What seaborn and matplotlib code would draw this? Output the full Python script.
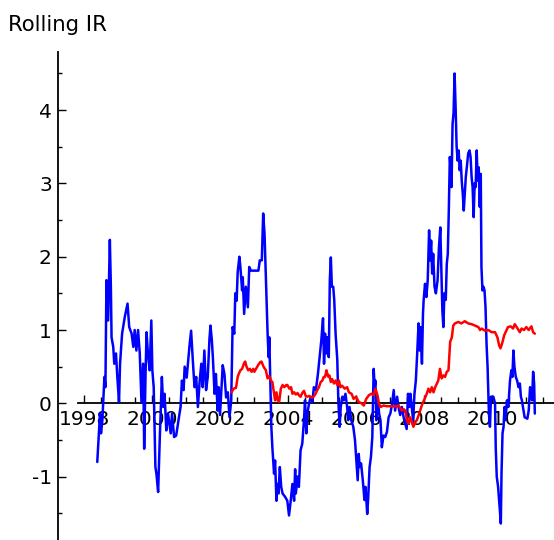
import numpy as np
import pandas as pd
import matplotlib
matplotlib.use("Agg")
import matplotlib.pyplot as plt
import seaborn as sns
from matplotlib.ticker import FixedLocator

# ---- data ----
blue_years = [
    1998.39, 1998.47, 1998.50, 1998.54, 1998.60, 1998.63, 1998.66, 1998.71, 1998.76, 1998.79,
    1998.81, 1998.86, 1998.89, 1998.94, 1998.98, 1999.03, 1999.06, 1999.12, 1999.20, 1999.28,
    1999.33, 1999.40, 1999.45, 1999.49, 1999.54, 1999.59, 1999.64, 1999.69, 1999.74, 1999.77,
    1999.81, 1999.84, 1999.88, 1999.93, 1999.98, 2000.01, 2000.05, 2000.10, 2000.13, 2000.18,
    2000.23, 2000.29, 2000.33, 2000.37, 2000.42, 2000.47, 2000.55, 2000.59, 2000.65, 2000.71,
    2000.78, 2000.84, 2000.88, 2000.93, 2000.96, 2001.02, 2001.10, 2001.15, 2001.20, 2001.25,
    2001.30, 2001.35, 2001.40, 2001.45, 2001.49, 2001.54, 2001.59, 2001.64, 2001.69, 2001.72,
    2001.76, 2001.79, 2001.84, 2001.88, 2001.93, 2001.96, 2002.00, 2002.04, 2002.08, 2002.13,
    2002.18, 2002.23, 2002.28, 2002.33, 2002.37, 2002.42, 2002.45, 2002.49, 2002.52, 2002.57,
    2002.60, 2002.65, 2002.67, 2002.71, 2002.76, 2002.82, 2002.86, 2002.91, 2003.01, 2003.13,
    2003.17, 2003.23, 2003.27, 2003.31, 2003.35, 2003.40, 2003.43, 2003.45, 2003.48, 2003.51,
    2003.54, 2003.59, 2003.62, 2003.66, 2003.69, 2003.72, 2003.76, 2003.80, 2003.84, 2003.92,
    2003.98, 2004.03, 2004.08, 2004.13, 2004.18, 2004.21, 2004.23, 2004.28, 2004.32, 2004.37,
    2004.42, 2004.47, 2004.50, 2004.54, 2004.57, 2004.62, 2004.67, 2004.72, 2004.76, 2004.82,
    2004.88, 2004.93, 2004.98, 2005.03, 2005.06, 2005.09, 2005.12, 2005.16, 2005.20, 2005.23,
    2005.26, 2005.29, 2005.33, 2005.36, 2005.40, 2005.45, 2005.48, 2005.52, 2005.55, 2005.60,
    2005.64, 2005.69, 2005.74, 2005.77, 2005.81, 2005.86, 2005.92, 2005.97, 2006.01, 2006.05,
    2006.08, 2006.11, 2006.15, 2006.20, 2006.25, 2006.28, 2006.33, 2006.36, 2006.40, 2006.44,
    2006.48, 2006.52, 2006.55, 2006.57, 2006.60, 2006.64, 2006.68, 2006.72, 2006.76, 2006.81,
    2006.86, 2006.91, 2006.96, 2007.01, 2007.06, 2007.11, 2007.15, 2007.21, 2007.25, 2007.30,
    2007.35, 2007.40, 2007.45, 2007.49, 2007.53, 2007.57, 2007.60, 2007.64, 2007.68, 2007.72,
    2007.76, 2007.80, 2007.84, 2007.87, 2007.90, 2007.94, 2007.97, 2007.99, 2008.03, 2008.07,
    2008.11, 2008.15, 2008.18, 2008.21, 2008.24, 2008.27, 2008.31, 2008.35, 2008.40, 2008.44,
    2008.48, 2008.51, 2008.54, 2008.57, 2008.60, 2008.64, 2008.67, 2008.70, 2008.73, 2008.76,
    2008.79, 2008.81, 2008.84, 2008.87, 2008.90, 2008.93, 2008.96, 2008.99, 2009.02, 2009.05,
    2009.08, 2009.11, 2009.14, 2009.17, 2009.20, 2009.23, 2009.26, 2009.30, 2009.34, 2009.37,
    2009.40, 2009.43, 2009.46, 2009.49, 2009.52, 2009.55, 2009.58, 2009.61, 2009.64, 2009.67,
    2009.69, 2009.72, 2009.75, 2009.78, 2009.81, 2009.84, 2009.87, 2009.91, 2009.94, 2009.97,
    2010.04, 2010.09, 2010.11, 2010.14, 2010.18, 2010.21, 2010.24, 2010.26, 2010.28, 2010.31,
    2010.34, 2010.37, 2010.40, 2010.44, 2010.48, 2010.51, 2010.53, 2010.57, 2010.60, 2010.63,
    2010.66, 2010.70, 2010.74, 2010.78, 2010.82, 2010.85, 2010.88, 2010.91, 2010.96, 2011.04,
    2011.08, 2011.12, 2011.15, 2011.18, 2011.21, 2011.24, 2011.26,
]
blue_values = [
    -0.80, -0.14, -0.41, -0.23, 0.36, 0.22, 1.68, 1.13, 2.23, 1.59,
    0.90, 0.77, 0.54, 0.68, 0.36, 0.02, 0.54, 0.95, 1.18, 1.36,
    1.04, 0.95, 0.77, 1.00, 0.72, 1.00, 0.68, 0.02, 0.54, -0.62,
    0.40, 0.97, 0.68, 0.45, 1.13, 0.45, 0.22, -0.87, -0.96, -1.21,
    -0.46, 0.36, -0.05, 0.13, -0.37, -0.14, -0.41, -0.14, -0.46, -0.44,
    -0.23, -0.05, 0.31, 0.18, 0.50, 0.35, 0.77, 0.99, 0.59, 0.22,
    0.36, -0.05, 0.29, 0.54, 0.22, 0.72, 0.18, 0.36, 0.88, 1.06,
    0.86, 0.63, 0.13, 0.40, -0.10, 0.22, -0.16, 0.18, 0.52, 0.40,
    0.08, 0.15, -0.19, 0.04, 1.04, 0.95, 1.50, 1.40, 1.79, 2.00,
    1.86, 1.54, 1.72, 1.22, 1.59, 1.31, 1.86, 1.81, 1.81, 1.81,
    1.95, 1.95, 2.59, 2.31, 1.72, 0.95, 0.63, 0.90, 0.27, -0.32,
    -0.60, -0.96, -0.78, -1.33, -1.10, -1.23, -0.87, -1.14, -1.23, -1.28,
    -1.33, -1.53, -1.33, -1.10, -1.33, -0.90, -1.23, -1.00, -1.14, -0.64,
    -0.55, -0.23, 0.04, -0.41, -0.14, 0.00, 0.09, 0.02, 0.22, 0.18,
    0.40, 0.63, 0.86, 1.16, 0.54, 0.95, 0.68, 0.90, 0.63, 1.68,
    1.99, 1.59, 1.59, 1.41, 0.95, 0.59, 0.04, -0.32, -0.05, 0.09,
    0.04, 0.13, -0.05, -0.23, -0.05, -0.23, -0.32, -0.50, -0.78, -1.05,
    -0.69, -0.87, -0.82, -1.05, -1.32, -1.14, -1.51, -1.28, -0.87, -0.73,
    -0.46, 0.47, 0.22, 0.31, -0.23, 0.09, -0.14, -0.23, -0.60, -0.44,
    -0.46, -0.39, -0.19, -0.14, -0.01, 0.18, -0.10, 0.09, -0.05, -0.16,
    -0.05, -0.19, -0.28, -0.35, 0.13, -0.05, 0.13, -0.05, -0.23, 0.13,
    0.31, 0.68, 1.09, 0.72, 1.04, 0.54, 1.22, 1.41, 1.63, 1.45,
    1.68, 2.36, 1.95, 2.22, 1.77, 2.04, 1.59, 1.50, 1.68, 2.13,
    2.40, 1.81, 1.27, 1.04, 1.50, 1.41, 1.90, 2.04, 2.63, 3.36,
    3.18, 2.95, 3.81, 3.96, 4.50, 4.04, 3.50, 3.31, 3.45, 3.18,
    3.31, 3.04, 2.86, 2.63, 2.86, 3.09, 3.22, 3.41, 3.45, 3.36,
    3.09, 2.95, 2.54, 3.00, 2.95, 3.45, 3.04, 3.22, 2.68, 3.13,
    1.86, 1.54, 1.59, 1.54, 1.31, 0.81, 0.50, -0.14, -0.32, 0.09,
    0.09, 0.00, -0.60, -1.00, -1.14, -1.32, -1.51, -1.64, -0.96, -0.41,
    -0.32, -0.05, -0.23, 0.04, -0.05, 0.18, 0.31, 0.45, 0.36, 0.72,
    0.50, 0.36, 0.31, 0.22, 0.27, 0.09, 0.04, -0.05, -0.19, -0.21,
    -0.10, 0.22, 0.13, 0.04, 0.43, 0.27, -0.14,
]

red_years = [
    2002.34, 2002.40, 2002.47, 2002.52, 2002.55, 2002.60, 2002.65, 2002.71, 2002.74, 2002.78,
    2002.83, 2002.88, 2002.93, 2002.98, 2003.01, 2003.06, 2003.12, 2003.18, 2003.22, 2003.28,
    2003.35, 2003.40, 2003.45, 2003.50, 2003.54, 2003.59, 2003.62, 2003.66, 2003.70, 2003.74,
    2003.79, 2003.84, 2003.89, 2003.95, 2003.98, 2004.04, 2004.09, 2004.13, 2004.18, 2004.23,
    2004.28, 2004.32, 2004.37, 2004.42, 2004.47, 2004.52, 2004.57, 2004.62, 2004.67, 2004.72,
    2004.77, 2004.81, 2004.86, 2004.91, 2004.96, 2005.01, 2005.05, 2005.09, 2005.13, 2005.16,
    2005.19, 2005.22, 2005.26, 2005.30, 2005.35, 2005.40, 2005.45, 2005.50, 2005.54, 2005.59,
    2005.67, 2005.74, 2005.79, 2005.87, 2005.93, 2006.00, 2006.08, 2006.16, 2006.23, 2006.30,
    2006.38, 2006.45, 2006.52, 2006.57, 2006.62, 2006.67, 2006.72, 2006.81, 2006.91, 2007.05,
    2007.20, 2007.25, 2007.35, 2007.40, 2007.45, 2007.50, 2007.54, 2007.59, 2007.64, 2007.69,
    2007.74, 2007.79, 2007.86, 2007.92, 2007.96, 2008.02, 2008.08, 2008.13, 2008.18, 2008.23,
    2008.28, 2008.33, 2008.38, 2008.42, 2008.47, 2008.52, 2008.57, 2008.62, 2008.67, 2008.72,
    2008.77, 2008.82, 2008.86, 2008.91, 2009.01, 2009.10, 2009.20, 2009.30, 2009.40, 2009.50,
    2009.60, 2009.65, 2009.70, 2009.79, 2009.89, 2009.99, 2010.09, 2010.16, 2010.21, 2010.25,
    2010.30, 2010.36, 2010.42, 2010.47, 2010.55, 2010.62, 2010.67, 2010.75, 2010.82, 2010.87,
    2010.94, 2011.01, 2011.08, 2011.16, 2011.21, 2011.26,
]
red_values = [
    0.15, 0.20, 0.21, 0.36, 0.40, 0.45, 0.47, 0.55, 0.57, 0.50,
    0.45, 0.47, 0.43, 0.47, 0.43, 0.47, 0.52, 0.56, 0.57, 0.50,
    0.45, 0.34, 0.37, 0.31, 0.29, 0.13, 0.04, 0.15, 0.04, 0.02,
    0.20, 0.25, 0.22, 0.25, 0.25, 0.20, 0.22, 0.13, 0.15, 0.12,
    0.14, 0.11, 0.09, 0.14, 0.17, 0.10, 0.09, 0.10, 0.08, 0.08,
    0.10, 0.13, 0.18, 0.22, 0.29, 0.31, 0.36, 0.36, 0.45, 0.40,
    0.36, 0.38, 0.29, 0.33, 0.27, 0.31, 0.25, 0.31, 0.22, 0.24,
    0.20, 0.22, 0.15, 0.13, 0.06, 0.09, 0.02, 0.00, -0.03, 0.06,
    0.11, 0.13, 0.11, 0.20, 0.13, 0.00, -0.05, -0.03, -0.04, -0.04,
    -0.04, -0.03, -0.10, -0.08, -0.10, -0.23, -0.28, -0.19, -0.26, -0.32,
    -0.26, -0.23, -0.14, -0.05, 0.00, 0.06, 0.13, 0.20, 0.15, 0.22,
    0.15, 0.22, 0.27, 0.31, 0.47, 0.34, 0.38, 0.36, 0.43, 0.45,
    0.84, 0.90, 1.06, 1.09, 1.11, 1.09, 1.12, 1.09, 1.08, 1.06,
    1.04, 1.00, 1.02, 0.99, 1.00, 0.97, 0.97, 0.90, 0.79, 0.75,
    0.82, 0.93, 0.99, 1.04, 1.05, 1.02, 1.08, 1.02, 0.97, 1.02,
    1.00, 1.04, 1.00, 1.05, 0.97, 0.95,
]

x_major_ticks = [1998, 2000, 2002, 2004, 2006, 2008, 2010]
x_tick_labels = ["1998", "2000", "2002", "2004", "2006", "2008", "2010"]
y_major_ticks = [-1, 0, 1, 2, 3, 4]
y_tick_labels = ["-1", "0", "1", "2", "3", "4"]
title_text = "Rolling IR"

blue_df = pd.DataFrame({"year": blue_years, "ir": blue_values})
red_df = pd.DataFrame({"year": red_years, "ir": red_values})

# ---- style ----
sns.set_style("white")
plt.rcParams["font.family"] = ["DejaVu Sans"]
plt.rcParams["axes.unicode_minus"] = False
plt.rcParams["text.color"] = "black"
plt.rcParams["xtick.color"] = "black"
plt.rcParams["ytick.color"] = "black"
plt.rcParams["axes.labelcolor"] = "black"
FS = 14.5

fig = plt.figure(figsize=(5.54, 5.40), dpi=100)
ax = fig.add_axes([58 / 554, 0.0, 496 / 554, 488 / 540])
ax.set_facecolor("white")

sns.lineplot(data=blue_df, x="year", y="ir", color=(0, 0, 1), linewidth=1.8,
             sort=False, estimator=None, ax=ax, zorder=3)
sns.lineplot(data=red_df, x="year", y="ir", color=(1, 0, 0), linewidth=1.8,
             sort=False, estimator=None, ax=ax, zorder=3)

ax.set_xlim(1997.235, 2011.824)
ax.set_ylim(-1.865, 4.793)
ax.set_xlabel("")
ax.set_ylabel("")

for s in ["top", "right"]:
    ax.spines[s].set_visible(False)
ax.spines["bottom"].set_position(("data", 0))
ax.spines["bottom"].set_bounds(1997.824, 2011.824)
for s in ["bottom", "left"]:
    ax.spines[s].set_color("black")
    ax.spines[s].set_linewidth(1.3)
    ax.spines[s].set_zorder(2.5)

ax.xaxis.set_major_locator(FixedLocator(x_major_ticks))
ax.set_xticklabels(x_tick_labels)
ax.xaxis.set_minor_locator(FixedLocator(list(np.arange(1998.5, 2011.6, 0.5))))
ax.yaxis.set_major_locator(FixedLocator(y_major_ticks))
ax.set_yticklabels(y_tick_labels)
ax.yaxis.set_minor_locator(FixedLocator(list(np.arange(-1.5, 4.6, 1.0))))

ax.tick_params(axis="x", which="major", direction="in", length=6, width=1.0,
               color="black", labelcolor="black", labelsize=FS, pad=5.0, bottom=True)
ax.tick_params(axis="x", which="minor", direction="in", length=4, width=1.0,
               color="black", bottom=True)
ax.tick_params(axis="y", which="major", direction="in", length=5.5, width=1.0,
               color="black", labelcolor="black", labelsize=FS, pad=4.5, left=True)
ax.tick_params(axis="y", which="minor", direction="in", length=3, width=1.0,
               color="black", left=True)
ax.grid(False)

fig.text(8 / 554, 1 - 30.7 / 540, title_text, fontsize=15.3, color="black",
         ha="left", va="baseline")

fig.savefig("out.png", dpi=100)
